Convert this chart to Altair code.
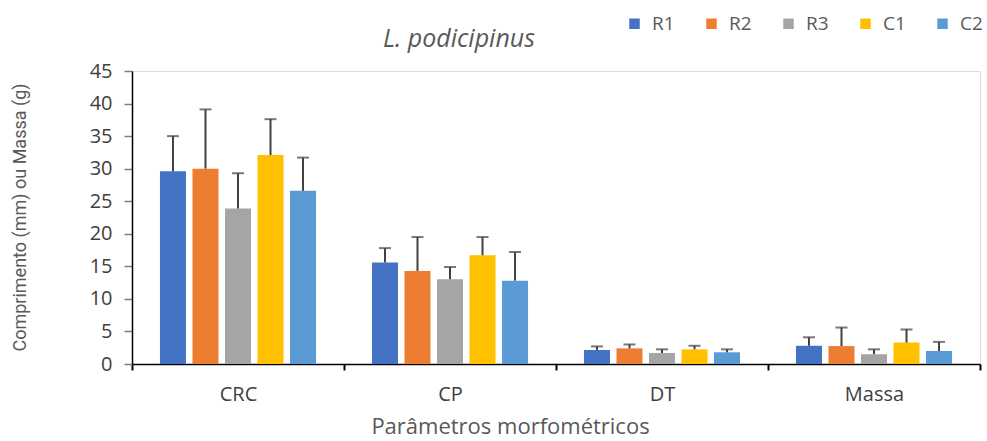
import altair as alt
import pandas as pd

# Morphometric parameters and sampling sites
parametros = ["CRC", "CP", "DT", "Massa"]
grupos = ["R1", "R2", "R3", "C1", "C2"]
cores = ["#4472C4", "#ED7D31", "#A5A5A5", "#FFC000", "#5B9BD5"]

# Means per site (one value per parameter)
media = {
    "R1": [29.6, 15.6, 2.15, 2.8],
    "R2": [30.0, 14.3, 2.4, 2.75],
    "R3": [23.9, 13.0, 1.7, 1.5],
    "C1": [32.1, 16.7, 2.25, 3.3],
    "C2": [26.6, 12.8, 1.8, 2.0],
}
# Standard deviations (upper whisker only)
desvio = {
    "R1": [5.4, 2.2, 0.55, 1.3],
    "R2": [9.1, 5.2, 0.6, 2.85],
    "R3": [5.4, 1.9, 0.55, 0.75],
    "C1": [5.5, 2.8, 0.55, 2.0],
    "C2": [5.1, 4.4, 0.45, 1.4],
}

rows = []
for g in grupos:
    for i, p in enumerate(parametros):
        m = media[g][i]
        rows.append({"param": p, "grupo": g, "media": m, "sup": m + desvio[g][i]})
df = pd.DataFrame(rows)

FONT = "Open Sans"

x_axis = alt.Axis(
    title="Parâmetros morfométricos",
    labelAngle=0,
    labelFontSize=20,
    labelColor="#404040",
    labelFont=FONT,
    labelPadding=14,
    tickBand="extent",
    tickSize=6,
    tickWidth=2,
    tickColor="#000000",
    domainColor="#000000",
    domainWidth=1.5,
    titleFont=FONT,
    titleFontSize=22,
    titleFontWeight="normal",
    titleColor="#595959",
    titleX=378,
    titleY=62,
    titleBaseline="middle",
    titleAlign="center",
)
# full-width category bands; the gap between groups comes from the offset scale
x = alt.X("param:N", sort=parametros,
          scale=alt.Scale(paddingInner=0, paddingOuter=0), axis=x_axis)
xo = alt.XOffset("grupo:N", sort=grupos,
                 scale=alt.Scale(paddingInner=0.2, paddingOuter=0.86))

y_axis = alt.Axis(
    title="Comprimento (mm) ou Massa (g)",
    values=list(range(0, 50, 5)),
    grid=False,
    labelOverlap=False,
    labelFontSize=20,
    labelColor="#404040",
    labelFont=FONT,
    labelPadding=12,
    tickSize=8,
    tickWidth=1.5,
    tickColor="#7f7f7f",
    domainColor="#000000",
    domainWidth=1.5,
    titleFont="Roboto",
    titleFontSize=18,
    titleFontWeight="normal",
    titleColor="#595959",
    titleX=-112,
    titleY=146,
    titleAngle=-90,
    titleBaseline="middle",
    titleAlign="center",
)
y_scale = alt.Scale(domain=[0, 45], nice=False)

bars = alt.Chart(df).mark_bar().encode(
    x=x,
    xOffset=xo,
    y=alt.Y("media:Q", scale=y_scale, axis=y_axis),
    color=alt.Color(
        "grupo:N",
        sort=grupos,
        scale=alt.Scale(domain=grupos, range=cores),
        legend=alt.Legend(
            title=None,
            orient="none",
            direction="horizontal",
            legendX=493,
            legendY=-57,
            symbolType="square",
            symbolSize=110,
            symbolStrokeWidth=0,
            labelFontSize=19,
            labelFont=FONT,
            labelColor="#595959",
            labelOffset=8,
            columnPadding=27,
        ),
    ),
)

whisker = alt.Chart(df).mark_rule(color="#404040", strokeWidth=2).encode(
    x=x,
    xOffset=xo,
    y=alt.Y("media:Q", scale=y_scale, axis=y_axis),
    y2="sup:Q",
)

cap = alt.Chart(df).mark_tick(color="#404040", thickness=2, size=12, orient="horizontal").encode(
    x=x,
    xOffset=xo,
    y=alt.Y("sup:Q", scale=y_scale, axis=y_axis),
)

chart = (
    alt.layer(bars, whisker, cap)
    .properties(
        width=848,
        height=293,
        autosize=alt.AutoSizeParams(type="none"),
        padding={"left": 132, "top": 71, "right": 7, "bottom": 77},
        title=alt.TitleParams(
            "L. podicipinus",
            font=FONT,
            fontSize=25,
            fontStyle="italic",
            fontWeight="normal",
            color="#595959",
            anchor="middle",
            dx=-97,
            offset=-38,
        ),
    )
    .configure_view(stroke=None)
    .configure(background="white")
)

chart.save("out.html", embed_options={"renderer": "svg", "actions": False})
